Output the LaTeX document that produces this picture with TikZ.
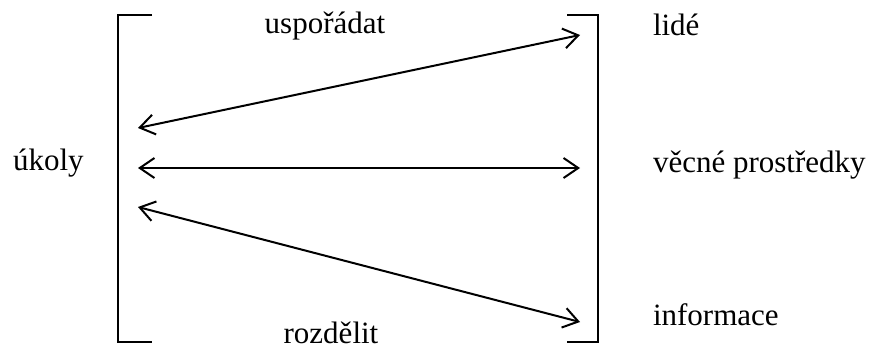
\documentclass[tikz,border=0pt]{standalone}
\usepackage{fontspec}
\setmainfont{Liberation Serif}
\usetikzlibrary{arrows.meta}
\begin{document}
\begin{tikzpicture}[>={Straight Barb[length=11pt,width=15pt]},x=0.75pt,y=0.75pt,line width=1.5pt]
			\def\xl{118}
			\def\xr{598}
			\useasboundingbox (0,0) rectangle (872,344);
			\tikzset{txt/.style={inner sep=0pt,anchor=base west,font=\fontsize{23.25}{28}\selectfont}}
			\draw (152,329)--(\xl,329)--(\xl,2)--(152,2); % ngoặc trái
			\draw (567,329)--(\xr,329)--(\xr,2)--(567,2); % ngoặc phải
			\node[txt,anchor=base] (usporadat) at (325,311) {uspořádat};
			\node[txt,anchor=base] (rozdelit) at (331,1) {rozdělit};
			\node[txt] (ukoly) at (12,174) {úkoly};
			\node[txt] (lide) at (652,309) {lidé};
			\node[txt] (prostredky) at (652,172) {věcné prostředky};
			\node[txt] (informace) at (652,19) {informace};
			\coordinate (a1) at (138,216); \coordinate (b1) at (580,309);
			\coordinate (a2) at (138,176); \coordinate (b2) at (580,176);
			\coordinate (a3) at (138,137); \coordinate (b3) at (580,22);
			\draw[<->] (a1)--(b1);
			\draw[<->] (a2)--(b2);
			\draw[<->] (a3)--(b3);
	\end{tikzpicture}
\end{document}
